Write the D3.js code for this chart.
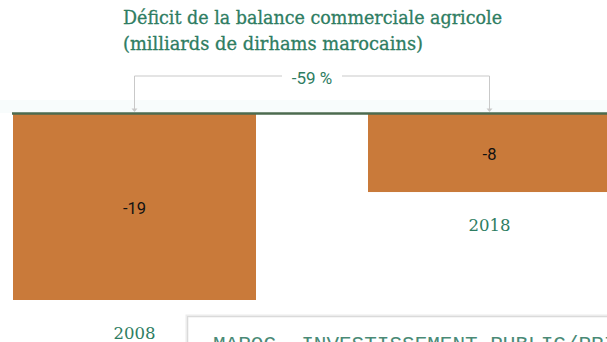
<!DOCTYPE html>
<html>
<head>
<meta charset="utf-8">
<script src="https://cdn.jsdelivr.net/npm/d3@7"></script>
<style>
  html, body { margin: 0; padding: 0; background: #ffffff; }
  svg { display: block; }
</style>
</head>
<body>
<svg id="chart" width="607" height="342"></svg>
<script>
// Agricultural trade balance deficit, billions of Moroccan dirhams
const years = ["2008", "2018"];
const deficits = [-19, -8];
const changeLabel = "-59 %";
const titleLines = [
  "Déficit de la balance commerciale agricole",
  "(milliards de dirhams marocains)"
];
const nextPanelTitle = "MAROC- INVESTISSEMENT PUBLIC/PRIVÉ";

const svg = d3.select("#chart");
const green = "#2e7d62";
const barColor = "#c97a3a";
const serif = "'DejaVu Serif', 'Liberation Serif', serif";
const sans = "Roboto, 'Noto Sans', sans-serif";

const x = d3.scaleBand()
  .domain(years)
  .range([13, 611])
  .paddingInner(0.3155)
  .paddingOuter(0);

const y = d3.scaleLinear()
  .domain([d3.min(deficits), 0])
  .range([300, 113.5]);

// faint haze just above the baseline
svg.append("rect")
  .attr("x", 0).attr("y", 100)
  .attr("width", 607).attr("height", 13)
  .attr("fill", "#f8fcfc");

// title
svg.append("g")
  .selectAll("text")
  .data(titleLines)
  .join("text")
  .attr("x", 123)
  .attr("y", (d, i) => 24 + i * 25.5)
  .attr("fill", green)
  .attr("stroke", green)
  .attr("stroke-width", 0.3)
  .attr("font-family", serif)
  .attr("font-size", 18)
  .attr("textLength", (d, i) => i === 0 ? 379 : 300)
  .attr("lengthAdjust", "spacingAndGlyphs")
  .text(d => d);

// bars
const data = years.map((yr, i) => ({ year: yr, value: deficits[i] }));

svg.append("g")
  .selectAll("rect")
  .data(data)
  .join("rect")
  .attr("x", d => x(d.year))
  .attr("y", d => y(0))
  .attr("width", x.bandwidth())
  .attr("height", d => y(d.value) - y(0))
  .attr("fill", barColor);

// baseline
svg.append("line")
  .attr("x1", 12).attr("x2", 607)
  .attr("y1", y(0)).attr("y2", y(0))
  .attr("stroke", "#4c6b4f")
  .attr("stroke-width", 2.5);

// value labels at the middle of each bar
svg.append("g")
  .selectAll("text")
  .data(data)
  .join("text")
  .attr("x", d => x(d.year) + x.bandwidth() / 2)
  .attr("y", d => (y(0) + y(d.value)) / 2 + 7.5)
  .attr("text-anchor", "middle")
  .attr("fill", "#111111")
  .attr("font-family", sans)
  .attr("font-size", 16.5)
  .text(d => d.value);

// year labels under each bar
svg.append("g")
  .selectAll("text")
  .data(data)
  .join("text")
  .attr("x", d => x(d.year) + x.bandwidth() / 2)
  .attr("y", d => y(d.value) + 39)
  .attr("text-anchor", "middle")
  .attr("fill", green)
  .attr("font-family", serif)
  .attr("font-size", 16.5)
  .text(d => d.year);

// change bracket between the two bars
const cx0 = x(years[0]) + x.bandwidth() / 2;
const cx1 = x(years[1]) + x.bandwidth() / 2;
const by = 76;
const gapHalf = 30;
const mid = (cx0 + cx1) / 2;
const bracket = svg.append("g")
  .attr("stroke", "#c9c9c9")
  .attr("stroke-width", 1)
  .attr("fill", "none");
bracket.append("path")
  .attr("d", `M${cx0},${y(0) - 3}V${by}H${mid - gapHalf}`);
bracket.append("path")
  .attr("d", `M${mid + gapHalf},${by}H${cx1}V${y(0) - 3}`);
svg.append("g")
  .selectAll("path")
  .data([cx0, cx1])
  .join("path")
  .attr("d", c => `M${c - 3},${y(0) - 5}L${c + 3},${y(0) - 5}L${c},${y(0) - 1.5}Z`)
  .attr("fill", "#c9c9c9");

svg.append("text")
  .attr("x", mid)
  .attr("y", 84)
  .attr("text-anchor", "middle")
  .attr("fill", green)
  .attr("font-family", sans)
  .attr("font-size", 17)
  .text(changeLabel);

// top of the next panel
svg.append("rect")
  .attr("x", 187).attr("y", 316)
  .attr("width", 440).attr("height", 60)
  .attr("fill", "#ffffff")
  .attr("stroke", "#ececec")
  .attr("stroke-width", 3);
svg.append("rect")
  .attr("x", 187.5).attr("y", 316.5)
  .attr("width", 440).attr("height", 60)
  .attr("fill", "none")
  .attr("stroke", "#dadada")
  .attr("stroke-width", 1);
svg.append("text")
  .attr("x", 213)
  .attr("y", 350)
  .attr("fill", "#4a8a76")
  .attr("font-family", "'Liberation Mono', 'DejaVu Sans Mono', monospace")
  .attr("font-size", 21)
  .text(nextPanelTitle);
</script>
</body>
</html>
